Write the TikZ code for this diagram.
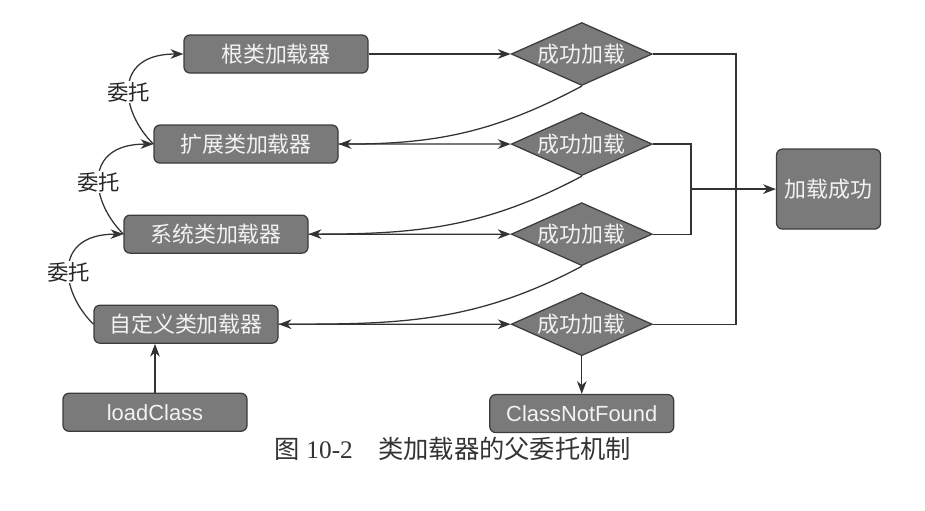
\documentclass[tikz,border=0pt]{standalone}
\usepackage{fontspec}
\setmainfont{Liberation Serif}
\setsansfont{Liberation Sans}
\newfontfamily\cjk{Noto Sans CJK SC}
\usepackage{tikz}
\usetikzlibrary{shapes.geometric,positioning,calc,arrows.meta}

\definecolor{boxgray}{HTML}{7A7A7A}
\definecolor{edgegray}{HTML}{3C3C3C}
\definecolor{linegray}{HTML}{333333}

\tikzset{
    loader/.style={rectangle, rounded corners=0.15cm, draw=edgegray, line width=0.9pt, fill=boxgray, text=white!95!black, inner sep=2pt, minimum width=4.6cm, minimum height=0.95cm, font=\cjk\fontsize{15.6}{18}\selectfont},
    check/.style={diamond, shape aspect=2.24, draw=edgegray, line width=0.9pt, fill=boxgray, text=white!95!black, inner sep=0pt, minimum width=3.525cm, minimum height=1.575cm, font=\cjk\fontsize{15.6}{18}\selectfont},
    result/.style={loader, minimum width=2.6cm, minimum height=2cm},
    flow/.style={draw=linegray, line width=0.9pt, -{Stealth[length=0.32cm, width=0.24cm, inset=0.1cm]}},
    link/.style={draw=linegray, line width=0.9pt},
    delegate/.style={font=\cjk\fontsize{15.2}{18}\selectfont, text=black!85, fill=white, inner sep=1pt},
    caption/.style={font=\fontsize{18}{22}\selectfont, text=black!80}
}

\begin{document}
\begin{tikzpicture}
    \useasboundingbox (0,0) rectangle (23.125,-12.75);

    % Loader chain - left column, each one shifted a bit to the left
    \node [loader] (root) at (6.9,-1.35) {根类加载器};
    \node [loader, below=1.27cm of root, xshift=-0.75cm] (ext) {扩展类加载器};
    \node [loader, below=1.27cm of ext, xshift=-0.75cm] (sys) {系统类加载器};
    \node [loader, below=1.27cm of sys, xshift=-0.75cm] (custom) {自定义类加载器};
    \node [loader, below=1.22cm of custom, xshift=-0.775cm] (load) {\sffamily loadClass};

    % Checks - middle column
    \node [check, right=3.55cm of root] (d1) {成功加载};
    \node [check, below=0.645cm of d1] (d2) {成功加载};
    \node [check, below=0.645cm of d2] (d3) {成功加载};
    \node [check, below=0.645cm of d3] (d4) {成功加载};
    \node [loader, below=0.94cm of d4] (cnf) {\sffamily ClassNotFound};

    % Result - right
    \coordinate [right=0.95cm of d2.east] (inner);
    \coordinate [right=2.075cm of d1.east] (outer);
    \coordinate (mid) at ($(d2.east)!.5!(d3.east)$);
    \node [result, right=3.075cm of mid] (ok) {加载成功};

    % Delegation to the parent
    \draw [flow] (ext.west) to[out=135, in=180, out distance=1.2cm, in distance=1.75cm] node[delegate, pos=0.45] {委托} (root.west);
    \draw [flow] (sys.west) to[out=135, in=180, out distance=1.2cm, in distance=1.75cm] node[delegate, pos=0.45] {委托} (ext.west);
    \draw [flow] (custom.west) to[out=135, in=180, out distance=1.2cm, in distance=1.75cm] node[delegate, pos=0.45] {委托} (sys.west);
    \draw [flow] (load.north) -- (load.north |- custom.south);

    % Try to load
    \draw [flow] (root.east) -- (d1.west);
    \draw [flow] (ext.east) -- (d2.west);
    \draw [flow] (sys.east) -- (d3.west);
    \draw [flow] (custom.east) -- (d4.west);

    % Failed - back to the child
    \draw [flow] (d1.south) to[out=208, in=0] (ext.east);
    \draw [flow] (d2.south) to[out=208, in=0] (sys.east);
    \draw [flow] (d3.south) to[out=208, in=0] (custom.east);
    \draw [flow] (d4.south) -- (cnf.north);

    % Succeeded
    \draw [link] (d1.east) -- (outer) |- (d4.east);
    \draw [link] (d2.east) -- (inner) |- (d3.east);
    \draw [flow] (inner |- ok.west) -- (ok.west);

    \node [caption] (cap) at (11.325,-11.22) {{\cjk 图} 10-2\hspace{1em}{\cjk 类加载器的父委托机制}};
\end{tikzpicture}
\end{document}
